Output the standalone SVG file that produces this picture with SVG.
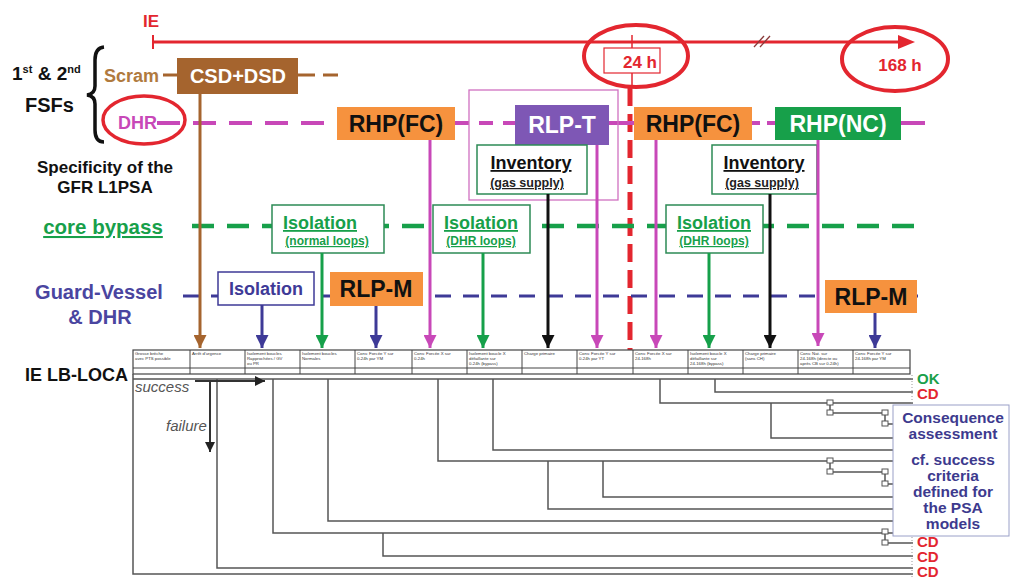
<svg xmlns="http://www.w3.org/2000/svg" width="1013" height="580" viewBox="0 0 1013 580">
  <style>
    text { font-family: "Liberation Sans", Arial, sans-serif; font-weight: bold; }
    .lbl { font-size: 23px; text-anchor: middle; }
    .iso { font-size: 18px; text-anchor: middle; text-decoration: underline; fill: #17a04a; }
    .isoSub { font-size: 12px; text-anchor: middle; text-decoration: underline; fill: #17a04a; }
    .inv { font-size: 18px; text-anchor: middle; text-decoration: underline; fill: #111; }
    .invSub { font-size: 12.5px; text-anchor: middle; text-decoration: underline; fill: #222; }
    .hdr { font-size: 4.3px; font-weight: normal; fill: #333; }
    .tree { stroke: #555; stroke-width: 1.5; fill: none; }
    .sq { fill: #fff; stroke: #555; stroke-width: 1; }
    .end { font-size: 15px; }
    .cons { font-size: 15.5px; fill: #3d3a8e; text-anchor: middle; }
    .arr { stroke-width: 3; fill: none; }
  </style>
  <defs>
    <marker id="ahBrown" markerUnits="userSpaceOnUse" markerWidth="13" markerHeight="13" refX="13" refY="6.5" orient="auto"><path d="M0,0 L13,6.5 L0,13 z" fill="#a5642e"/></marker>
    <marker id="ahBlue" markerUnits="userSpaceOnUse" markerWidth="13" markerHeight="13" refX="13" refY="6.5" orient="auto"><path d="M0,0 L13,6.5 L0,13 z" fill="#3e3a97"/></marker>
    <marker id="ahGreen" markerUnits="userSpaceOnUse" markerWidth="13" markerHeight="13" refX="13" refY="6.5" orient="auto"><path d="M0,0 L13,6.5 L0,13 z" fill="#16a04a"/></marker>
    <marker id="ahMag" markerUnits="userSpaceOnUse" markerWidth="13" markerHeight="13" refX="13" refY="6.5" orient="auto"><path d="M0,0 L13,6.5 L0,13 z" fill="#c848b8"/></marker>
    <marker id="ahBlack" markerUnits="userSpaceOnUse" markerWidth="13" markerHeight="13" refX="13" refY="6.5" orient="auto"><path d="M0,0 L13,6.5 L0,13 z" fill="#111"/></marker>
    <marker id="ahTree" markerUnits="userSpaceOnUse" markerWidth="10" markerHeight="10" refX="10" refY="5" orient="auto"><path d="M0,0 L10,5 L0,10 z" fill="#222"/></marker>
  </defs>

  <rect width="1013" height="580" fill="#fff"/>

  <!-- time axis -->
  <g id="timeline">
    <text x="143" y="27" font-size="17" fill="#e3262f">IE</text>
    <line x1="153" y1="42" x2="902" y2="42" stroke="#e3262f" stroke-width="3"/>
    <line x1="153" y1="35" x2="153" y2="49" stroke="#e3262f" stroke-width="2"/>
    <polygon points="898,35 915,42 898,49" fill="#e3262f"/>
    <line x1="754" y1="47" x2="764" y2="36" stroke="#8a3a3a" stroke-width="1.3"/>
    <line x1="760" y1="47" x2="770" y2="36" stroke="#8a3a3a" stroke-width="1.3"/>
    <line x1="632" y1="35" x2="632" y2="48" stroke="#e3262f" stroke-width="1.5"/>
    <rect x="604" y="48" width="56" height="25" fill="none" stroke="#e3262f" stroke-width="1.2"/>
    <text x="640" y="68" font-size="17" fill="#e3262f" text-anchor="middle">24 h</text>
    <ellipse cx="636" cy="56" rx="52" ry="31" fill="none" stroke="#e3262f" stroke-width="4"/>
    <text x="900" y="71" font-size="17" fill="#e3262f" text-anchor="middle">168 h</text>
    <ellipse cx="895" cy="59" rx="53" ry="32" fill="none" stroke="#e3262f" stroke-width="4"/>
    <line x1="632" y1="73" x2="632" y2="86" stroke="#e3262f" stroke-width="1.5"/>
    <line x1="630" y1="88" x2="630" y2="352" stroke="#e3262f" stroke-width="5" stroke-dasharray="18 8"/>
  </g>

  <!-- left-hand headings -->
  <g id="fsf-heading">
    <text x="12" y="80" font-size="19" fill="#111">1<tspan font-size="11" dy="-7">st</tspan><tspan dy="7"> &amp; 2</tspan><tspan font-size="11" dy="-7">nd</tspan></text>
    <text x="25" y="112" font-size="20" fill="#111">FSFs</text>
    <path d="M104,47 Q95,48 95,60 L95,86 Q95,94 87,95 Q95,96 95,104 L95,130 Q95,142 104,142" fill="none" stroke="#111" stroke-width="3.5"/>
  </g>
  <g id="specificity">
    <text x="105" y="173" font-size="17" fill="#111" text-anchor="middle">Specificity of the</text>
    <text x="105" y="193" font-size="17" fill="#111" text-anchor="middle">GFR L1PSA</text>
  </g>
  <g id="core-bypass-heading">
    <text x="103" y="234" font-size="20.5" fill="#17a04a" text-anchor="middle" text-decoration="underline">core bypass</text>
  </g>
  <g id="guard-vessel-heading">
    <text x="99" y="299" font-size="20" fill="#4a45a0" text-anchor="middle">Guard-Vessel</text>
    <text x="100" y="324" font-size="20" fill="#4a45a0" text-anchor="middle">&amp; DHR</text>
  </g>
  <g id="ie-lbloca">
    <text x="25" y="381" font-size="18" fill="#111">IE LB-LOCA</text>
  </g>

  <!-- function lines -->
  <g id="function-lines">
    <line x1="163" y1="75" x2="178" y2="75" stroke="#a5642e" stroke-width="3"/>
    <line x1="298" y1="75" x2="338" y2="75" stroke="#a5642e" stroke-width="3" stroke-dasharray="17 8"/>
    <line x1="157" y1="123" x2="338" y2="123" stroke="#c848b8" stroke-width="4" stroke-dasharray="23 13"/>
    <line x1="455" y1="123" x2="515" y2="123" stroke="#c848b8" stroke-width="4" stroke-dasharray="14 10"/>
    <line x1="609" y1="123" x2="634" y2="123" stroke="#c848b8" stroke-width="4"/>
    <line x1="752" y1="123" x2="775" y2="123" stroke="#c848b8" stroke-width="4" stroke-dasharray="8 7"/>
    <line x1="901" y1="123" x2="925" y2="123" stroke="#c848b8" stroke-width="4"/>
    <line x1="192" y1="226" x2="915" y2="226" stroke="#17a04a" stroke-width="4.5" stroke-dasharray="22 13"/>
    <line x1="183" y1="296" x2="918" y2="296" stroke="#3e3a97" stroke-width="3" stroke-dasharray="16 12"/>
  </g>

  <!-- first and second fundamental safety functions -->
  <g id="scram">
    <text x="104" y="82" font-size="18" fill="#b07a3e">Scram</text>
  </g>
  <g id="csd-dsd">
    <rect x="177" y="58" width="121" height="36" fill="#a5642e"/>
    <text class="lbl" x="238" y="83" fill="#fff" style="font-size:20px">CSD+DSD</text>
  </g>
  <g id="dhr">
    <text x="118" y="129" font-size="18" fill="#c848b8">DHR</text>
    <ellipse cx="144" cy="120" rx="41" ry="24" fill="none" stroke="#e3262f" stroke-width="3.5"/>
  </g>

  <!-- DHR systems -->
  <g id="rlp-t-frame">
    <rect x="469" y="90" width="149" height="110" fill="none" stroke="#d070c0" stroke-width="1.3"/>
  </g>
  <g id="rhp-fc-1">
    <rect x="337" y="107" width="118" height="33" fill="#f6923e"/>
    <text class="lbl" x="396" y="132" fill="#111">RHP(FC)</text>
  </g>
  <g id="rlp-t">
    <rect x="515" y="105" width="94" height="40" fill="#7e57b5"/>
    <text class="lbl" x="562" y="133" fill="#fff">RLP-T</text>
  </g>
  <g id="rhp-fc-2">
    <rect x="634" y="107" width="118" height="33" fill="#f6923e"/>
    <text class="lbl" x="693" y="132" fill="#111">RHP(FC)</text>
  </g>
  <g id="rhp-nc">
    <rect x="775" y="107" width="126" height="33" fill="#17a04a"/>
    <text class="lbl" x="838" y="132" fill="#fff">RHP(NC)</text>
  </g>

  <!-- primary inventory -->
  <g id="inventory-1">
    <rect x="477" y="145" width="110" height="49" fill="#fff" stroke="#2d8a55" stroke-width="1.5"/>
    <text class="inv" x="531" y="169">Inventory</text>
    <text class="invSub" x="527" y="187">(gas supply)</text>
  </g>
  <g id="inventory-2">
    <rect x="712" y="145" width="105" height="49" fill="#fff" stroke="#2d8a55" stroke-width="1.5"/>
    <text class="inv" x="764" y="169">Inventory</text>
    <text class="invSub" x="762" y="187">(gas supply)</text>
  </g>

  <!-- core bypass isolation -->
  <g id="isolation-normal">
    <rect x="272" y="205" width="112" height="48" fill="#fff" stroke="#2d8a55" stroke-width="1.5"/>
    <text class="iso" x="320" y="229">Isolation</text>
    <text class="isoSub" x="327" y="245">(normal loops)</text>
  </g>
  <g id="isolation-dhr-1">
    <rect x="433" y="205" width="97" height="48" fill="#fff" stroke="#2d8a55" stroke-width="1.5"/>
    <text class="iso" x="481" y="229">Isolation</text>
    <text class="isoSub" x="481" y="245">(DHR loops)</text>
  </g>
  <g id="isolation-dhr-2">
    <rect x="666" y="205" width="97" height="48" fill="#fff" stroke="#2d8a55" stroke-width="1.5"/>
    <text class="iso" x="714" y="229">Isolation</text>
    <text class="isoSub" x="714" y="245">(DHR loops)</text>
  </g>

  <!-- guard vessel and DHR -->
  <g id="isolation-gv">
    <rect x="218" y="272" width="96" height="33" fill="#fff" stroke="#3e3a97" stroke-width="1.5"/>
    <text x="266" y="295" font-size="18" fill="#3e3a97" text-anchor="middle">Isolation</text>
  </g>
  <g id="rlp-m-1">
    <rect x="330" y="272" width="93" height="34" fill="#f6923e"/>
    <text class="lbl" x="376" y="297" fill="#111">RLP-M</text>
  </g>
  <g id="rlp-m-2">
    <rect x="825" y="280" width="92" height="33" fill="#f6923e"/>
    <text class="lbl" x="871" y="305" fill="#111">RLP-M</text>
  </g>

  <!-- links from systems to event tree headings -->
  <g id="connectors">
    <line class="arr" x1="200" y1="94" x2="200" y2="348" stroke="#a5642e" marker-end="url(#ahBrown)"/>
    <line class="arr" x1="262" y1="305" x2="262" y2="348" stroke="#3e3a97" marker-end="url(#ahBlue)"/>
    <line class="arr" x1="322" y1="253" x2="322" y2="348" stroke="#16a04a" marker-end="url(#ahGreen)"/>
    <line class="arr" x1="376" y1="306" x2="376" y2="348" stroke="#3e3a97" marker-end="url(#ahBlue)"/>
    <line class="arr" x1="430" y1="140" x2="430" y2="348" stroke="#c848b8" marker-end="url(#ahMag)"/>
    <line class="arr" x1="483" y1="253" x2="483" y2="348" stroke="#16a04a" marker-end="url(#ahGreen)"/>
    <line class="arr" x1="548" y1="194" x2="548" y2="348" stroke="#111" marker-end="url(#ahBlack)"/>
    <line class="arr" x1="597" y1="145" x2="597" y2="348" stroke="#c848b8" marker-end="url(#ahMag)"/>
    <line class="arr" x1="656" y1="140" x2="656" y2="348" stroke="#c848b8" marker-end="url(#ahMag)"/>
    <line class="arr" x1="709" y1="253" x2="709" y2="348" stroke="#16a04a" marker-end="url(#ahGreen)"/>
    <line class="arr" x1="770" y1="194" x2="770" y2="348" stroke="#111" marker-end="url(#ahBlack)"/>
    <line class="arr" x1="818" y1="140" x2="818" y2="346" stroke="#c848b8" marker-end="url(#ahMag)"/>
    <line class="arr" x1="875" y1="313" x2="875" y2="348" stroke="#3e3a97" marker-end="url(#ahBlue)"/>
  </g>

  <!-- event tree -->
  <g id="event-tree-header">
    <rect x="133" y="350" width="777" height="24" fill="#fff" stroke="#444" stroke-width="1.2"/>
    <line x1="133" y1="368" x2="910" y2="368" stroke="#444" stroke-width="1"/>
    <path d="M190,350V374 M245,350V374 M300,350V374 M355,350V374 M412,350V374 M467,350V374 M522,350V374 M577,350V374 M633,350V374 M688,350V374 M743,350V374 M798,350V374 M853,350V374" stroke="#444" stroke-width="1"/>
    <text class="hdr" x="135" y="355">Grosse brèche<tspan x="135" dy="5">avec PTS possible</tspan></text>
    <text class="hdr" x="192" y="355">Arrêt d'urgence</text>
    <text class="hdr" x="247" y="355">Isolement boucles<tspan x="247" dy="5">Rapprochées / GV</tspan><tspan x="247" dy="5">ou PR</tspan></text>
    <text class="hdr" x="302" y="355">Isolement boucles<tspan x="302" dy="5">Normales</tspan></text>
    <text class="hdr" x="357" y="355">Conv. Forcée Y sur<tspan x="357" dy="5">0-24h par YM</tspan></text>
    <text class="hdr" x="414" y="355">Conv. Forcée X sur<tspan x="414" dy="5">0-24h</tspan></text>
    <text class="hdr" x="469" y="355">Isolement boucle X<tspan x="469" dy="5">défaillante sur</tspan><tspan x="469" dy="5">0-24h (bypass)</tspan></text>
    <text class="hdr" x="524" y="355">Charge primaire</text>
    <text class="hdr" x="579" y="355">Conv. Forcée Y sur<tspan x="579" dy="5">0-24h par YT</tspan></text>
    <text class="hdr" x="635" y="355">Conv. Forcée X sur<tspan x="635" dy="5">24-168h</tspan></text>
    <text class="hdr" x="690" y="355">Isolement boucle X<tspan x="690" dy="5">défaillante sur</tspan><tspan x="690" dy="5">24-168h (bypass)</tspan></text>
    <text class="hdr" x="745" y="355">Charge primaire<tspan x="745" dy="5">(sans CH)</tspan></text>
    <text class="hdr" x="800" y="355">Conv. Nat. sur<tspan x="800" dy="5">24-168h (directe ou</tspan><tspan x="800" dy="5">après CB sur 0-24h)</tspan></text>
    <text class="hdr" x="855" y="355">Conv. Forcée Y sur<tspan x="855" dy="5">24-168h par YM</tspan></text>
  </g>

  <g id="event-tree-branches">
    <path class="tree" d="M133,374 V574 H913"/>
    <path class="tree" d="M133,379 H913"/>
    <path class="tree" d="M217,379 V568 H913"/>
    <path class="tree" d="M273,379 V533 H913"/>
    <path class="tree" d="M328,379 V521 H913"/>
    <path class="tree" d="M383,533 V556 H913"/>
    <path class="tree" d="M438,379 V461 H913"/>
    <path class="tree" d="M493,379 V450 H913"/>
    <path class="tree" d="M548,461 V509 H913"/>
    <path class="tree" d="M603,461 V497 H913"/>
    <path class="tree" d="M660,379 V403 H913"/>
    <path class="tree" d="M715,379 V392 H913"/>
    <path class="tree" d="M771,403 V438 H913"/>
    <path class="tree" d="M830,403 V413 H885 V424 H913"/>
    <path class="tree" d="M830,461 V472 H885 V484 H913"/>
    <path class="tree" d="M885,532 V543 H913"/>
    <rect class="sq" x="827" y="400" width="6" height="5"/>
    <rect class="sq" x="827" y="410" width="6" height="5"/>
    <rect class="sq" x="882" y="410" width="6" height="5"/>
    <rect class="sq" x="882" y="421" width="6" height="5"/>
    <rect class="sq" x="827" y="458" width="6" height="5"/>
    <rect class="sq" x="827" y="469" width="6" height="5"/>
    <rect class="sq" x="882" y="469" width="6" height="5"/>
    <rect class="sq" x="882" y="481" width="6" height="5"/>
    <rect class="sq" x="882" y="529" width="6" height="5"/>
    <rect class="sq" x="882" y="540" width="6" height="5"/>
    <line x1="912" y1="375" x2="912" y2="578" stroke="#999" stroke-width="1" stroke-dasharray="1 2"/>
  </g>

  <g id="success-failure">
    <text x="135" y="392" font-size="15" font-style="italic" fill="#555" style="font-weight:normal">success</text>
    <line x1="195" y1="381" x2="265" y2="381" stroke="#333" stroke-width="2" marker-end="url(#ahTree)"/>
    <text x="166" y="431" font-size="15" font-style="italic" fill="#555" style="font-weight:normal">failure</text>
    <line x1="210" y1="381" x2="210" y2="452" stroke="#333" stroke-width="2" marker-end="url(#ahTree)"/>
  </g>

  <!-- end states -->
  <g id="end-states">
    <text class="end" x="917" y="384" fill="#1aa04a">OK</text>
    <text class="end" x="917" y="399" fill="#e3262f">CD</text>
    <text class="end" x="917" y="547" fill="#e3262f">CD</text>
    <text class="end" x="917" y="562" fill="#e3262f">CD</text>
    <text class="end" x="917" y="577" fill="#e3262f">CD</text>
  </g>

  <g id="consequence-box">
    <rect x="893" y="405" width="116" height="131" fill="#fff" stroke="#9aa0c8" stroke-width="1"/>
    <text class="cons" x="953" y="423">Consequence</text>
    <text class="cons" x="953" y="439">assessment</text>
    <text class="cons" x="953" y="465">cf. success</text>
    <text class="cons" x="953" y="481">criteria</text>
    <text class="cons" x="953" y="497">defined for</text>
    <text class="cons" x="953" y="513">the PSA</text>
    <text class="cons" x="953" y="529">models</text>
  </g>
</svg>
